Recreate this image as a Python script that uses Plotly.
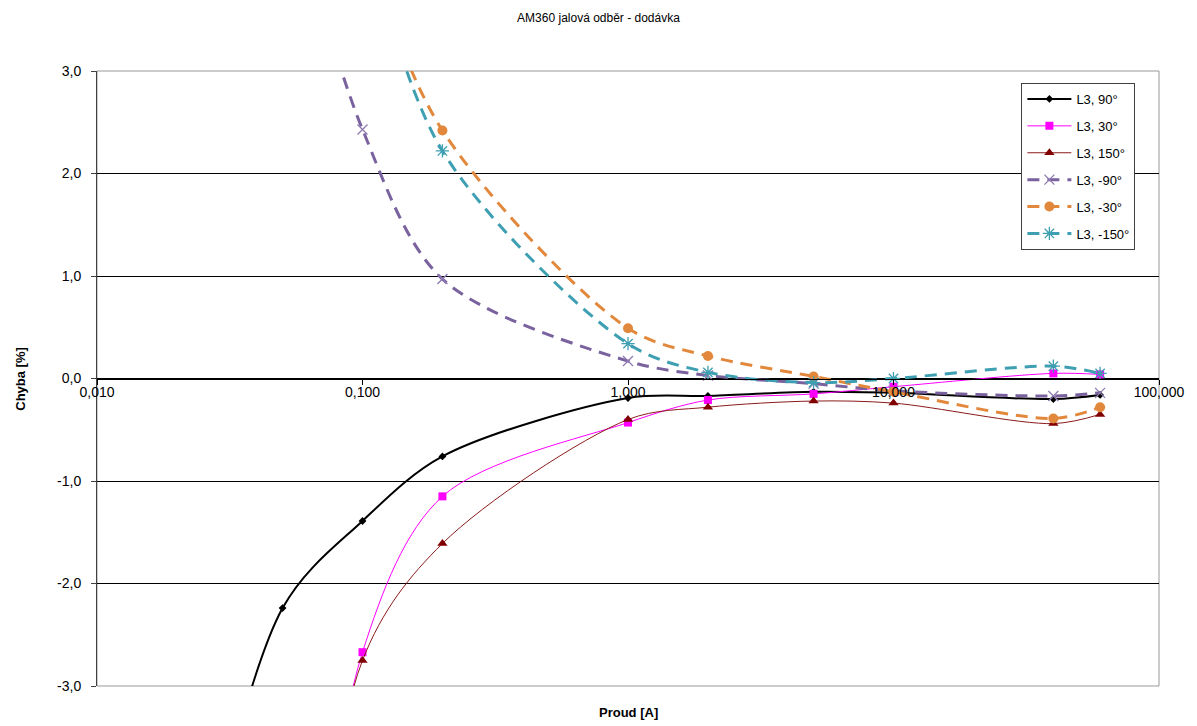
import plotly.graph_objects as go

# Measured current [A] and error [%] for each phase angle
proud_90 = [0.02, 0.05, 0.1, 0.2, 1, 2, 5, 10, 40, 60]
chyba_90 = [-6.0, -2.24, -1.39, -0.76, -0.19, -0.17, -0.13, -0.14, -0.20, -0.16]

proud_30 = [0.05, 0.1, 0.2, 1, 2, 5, 10, 40, 60]
chyba_30 = [-8.0, -2.67, -1.15, -0.43, -0.21, -0.15, -0.08, 0.05, 0.04]

proud_150 = [0.05, 0.1, 0.2, 1, 2, 5, 10, 40, 60]
chyba_150 = [-8.0, -2.75, -1.61, -0.40, -0.28, -0.22, -0.24, -0.44, -0.35]

proud_m90 = [0.05, 0.1, 0.2, 1, 2, 5, 10, 40, 60]
chyba_m90 = [5.0, 2.43, 0.97, 0.17, 0.03, -0.05, -0.12, -0.17, -0.14]

proud_m30 = [0.1, 0.2, 1, 2, 5, 10, 40, 60]
chyba_m30 = [4.3, 2.42, 0.49, 0.22, 0.02, -0.13, -0.39, -0.28]

proud_m150 = [0.1, 0.2, 1, 2, 5, 10, 40, 60]
chyba_m150 = [4.5, 2.22, 0.34, 0.06, -0.04, 0.0, 0.12, 0.05]

x_ticks = [0.01, 0.1, 1, 10, 100]
x_tick_text = ["0,010", "0,100", "1,000", "10,000", "100,000"]
y_ticks = [-3, -2, -1, 0, 1, 2, 3]
y_tick_text = ["-3,0", "-2,0", "-1,0", "0,0", "1,0", "2,0", "3,0"]

FONT = "Liberation Sans, Arial, sans-serif"

series = [
    dict(name="L3, 90°", x=proud_90, y=chyba_90, color="#000000", width=2, dash="solid",
         marker=dict(symbol="diamond", size=6, color="#000000")),
    dict(name="L3, 30°", x=proud_30, y=chyba_30, color="#FF00FF", width=1, dash="solid",
         marker=dict(symbol="square", size=8, color="#FF00FF")),
    dict(name="L3, 150°", x=proud_150, y=chyba_150, color="#8B1A1A", width=1, dash="solid",
         marker=dict(symbol="triangle-up", size=9, color="#800000")),
    dict(name="L3, -90°", x=proud_m90, y=chyba_m90, color="#7A629E", width=3, dash="12px,8px",
         marker=dict(symbol="x-thin-open", size=10, color="#8E7AB0", line=dict(width=1.3, color="#8E7AB0"))),
    dict(name="L3, -30°", x=proud_m30, y=chyba_m30, color="#E2883C", width=3, dash="12px,8px",
         marker=dict(symbol="circle", size=10, color="#E2883C")),
    dict(name="L3, -150°", x=proud_m150, y=chyba_m150, color="#3E9FB2", width=3, dash="12px,8px",
         marker=dict(symbol="asterisk-open", size=11, color="#3E9FB2", line=dict(width=1.3, color="#3E9FB2"))),
]

fig = go.Figure()
for i, s in enumerate(series):
    fig.add_trace(go.Scatter(
        x=s["x"], y=s["y"], name=s["name"], mode="lines+markers",
        line=dict(color=s["color"], width=s["width"], dash=s["dash"], shape="spline", smoothing=0.9),
        marker=s["marker"], legendgroup=f"g{i}", cliponaxis=True,
    ))

fig.update_layout(
    width=1197, height=726,
    margin=dict(l=97, r=35, t=71, b=40),
    paper_bgcolor="white", plot_bgcolor="white",
    font=dict(family=FONT, size=12, color="#000000"),
    title=dict(text="AM360 jalová odběr - dodávka", x=0.5, xanchor="center",
               y=1 - 18 / 726, yanchor="middle", font=dict(size=12, family=FONT)),
    showlegend=True,
    legend=dict(x=(1024 - 97) / 1065, y=(686 - 83) / 615, xanchor="left", yanchor="top",
                bgcolor="white", bordercolor="#404040", borderwidth=1,
                font=dict(size=13, family=FONT), tracegroupgap=7, itemwidth=44),
    xaxis=dict(type="log", range=[-2, 2], tickvals=x_ticks, ticktext=x_tick_text,
               anchor="free", position=0.5, showline=True, linecolor="#000000", linewidth=1,
               ticks="outside", ticklen=5, tickcolor="#000000", showgrid=False, zeroline=False,
               tickfont=dict(size=14, family=FONT), ticklabelstandoff=-4),
    yaxis=dict(range=[-3, 3], tickvals=y_ticks, ticktext=y_tick_text,
               showline=True, linecolor="#404040", linewidth=1, ticks="outside", ticklen=5,
               tickcolor="#404040", showgrid=True, gridcolor="#000000", gridwidth=1,
               zeroline=False, tickfont=dict(size=14, family=FONT), ticklabelstandoff=7),
)

# Plot area border
fig.add_shape(type="rect", xref="paper", yref="paper", x0=0, y0=0, x1=1, y1=1,
              line=dict(color="#999999", width=1), layer="below")

# Axis titles
fig.add_annotation(text="<b>Proud [A]</b>", xref="paper", yref="paper", x=0.5, y=-26 / 615,
                   xanchor="center", yanchor="middle", showarrow=False,
                   font=dict(size=13, family=FONT))
fig.add_annotation(text="<b>Chyba [%]</b>", xref="paper", yref="paper", x=-77 / 1065, y=0.5,
                   xanchor="center", yanchor="middle", showarrow=False, textangle=-90,
                   font=dict(size=13, family=FONT))

fig.write_html("out.html")
